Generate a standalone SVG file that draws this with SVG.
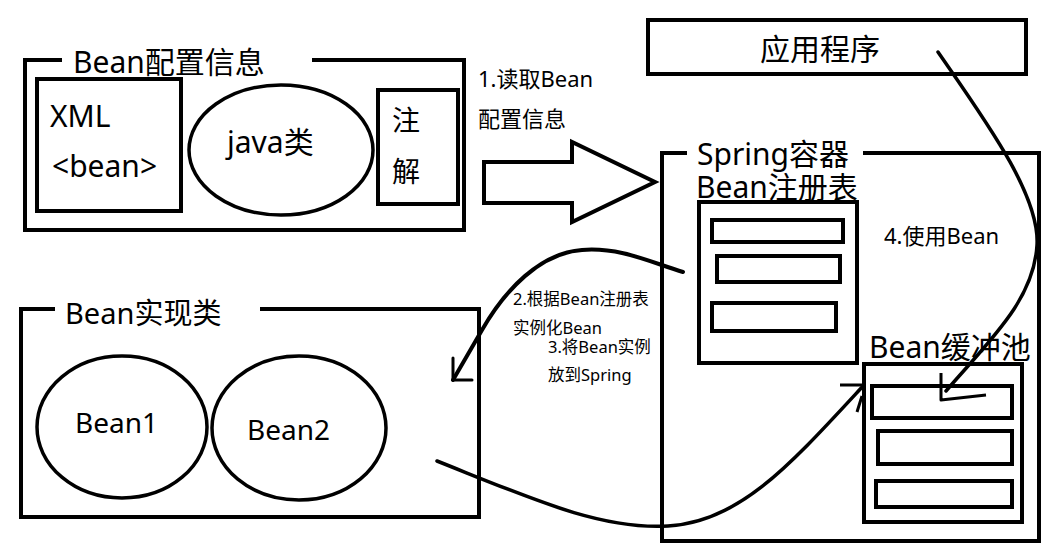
<svg xmlns="http://www.w3.org/2000/svg" width="1056" height="557" viewBox="0 0 1056 557">
<style>
.box{fill:none;stroke:#000;stroke-width:4}
.ell{fill:none;stroke:#000;stroke-width:3.5}
.ln{fill:none;stroke:#000;stroke-width:3.5;stroke-linecap:round;stroke-linejoin:round}
.big{font-family:"Noto Sans","Noto Sans CJK SC",sans-serif;font-size:30px;fill:#000}
.mid{font-family:"Noto Sans","Noto Sans CJK SC",sans-serif;font-size:28px;fill:#000}
.sm{font-family:"Noto Sans","Noto Sans CJK SC",sans-serif;font-size:22px;fill:#000}
.xs{font-family:"Noto Sans","Noto Sans CJK SC",sans-serif;font-size:16.5px;fill:#000}
</style>
<rect width="1056" height="557" fill="#fff"/>
<g id="config">
<path class="box" d="M62,60 H25 V230 H464 V60 H312"/>
<text class="big" x="73" y="73">Bean配置信息</text>
</g>
<g id="xml">
<rect class="box" x="37" y="79" width="144" height="132"/>
<text class="big" x="50" y="127">XML</text>
<text class="big" x="52" y="177">&lt;bean&gt;</text>
</g>
<g id="javaclass">
<ellipse class="ell" cx="281" cy="150" rx="92" ry="65"/>
<text class="big" x="227" y="153">java类</text>
</g>
<g id="annotation">
<rect class="box" x="378" y="90" width="80" height="114"/>
<text class="mid" x="392" y="131">注</text>
<text class="mid" x="392" y="182">解</text>
</g>
<g id="app">
<rect class="box" x="648" y="20" width="378" height="54"/>
<text class="big" x="820" y="60" text-anchor="middle">应用程序</text>
</g>
<g id="spring">
<path class="box" d="M687,153 H662 V541 H1039 V153 H863"/>
<text class="big" x="697" y="165">Spring容器</text>
<text class="big" x="696" y="198">Bean注册表</text>
</g>
<g id="registry">
<rect class="box" x="699" y="202" width="158" height="161"/>
<rect class="box" x="712" y="220" width="131" height="22"/>
<rect class="box" x="717" y="256" width="123" height="26"/>
<rect class="box" x="712" y="303" width="124" height="28"/>
</g>
<g id="pool">
<text class="big" x="869" y="358">Bean缓冲池</text>
<rect class="box" x="864" y="364" width="158" height="158"/>
<rect class="box" x="872" y="386" width="140" height="32"/>
<rect class="box" x="878" y="431" width="134" height="33"/>
<rect class="box" x="876" y="481" width="136" height="26"/>
</g>
<g id="impl">
<path class="box" d="M55,309 H21 V517 H479 V309 H260"/>
<text class="big" x="65" y="324" style="font-size:29px">Bean实现类</text>
</g>
<g id="bean1">
<ellipse class="ell" cx="122" cy="427" rx="85" ry="71"/>
<text class="mid" x="75" y="433">Bean1</text>
</g>
<g id="bean2">
<ellipse class="ell" cx="299" cy="428" rx="87" ry="72"/>
<text class="mid" x="247" y="440">Bean2</text>
</g>
<g id="connectors">
<polygon class="box" points="484,162 572,162 572,142 655,182 572,222 572,203 484,203"/>
<text class="sm" x="478" y="87">1.读取Bean</text>
<text class="sm" x="478" y="127">配置信息</text>
<path class="ln" style="stroke-width:4" d="M683,272 C650,262 620,247 582,250 C540,253 505,290 482,330 L453,380"/>
<path class="ln" style="stroke-width:3" d="M453,358 V380 H472"/>
<text class="xs" x="513" y="305">2.根据Bean注册表</text>
<text class="xs" x="513" y="334">实例化Bean</text>
<text class="xs" x="548" y="353">3.将Bean实例</text>
<text class="xs" x="548" y="381">放到Spring</text>
<path class="ln" d="M437,461 C530,498 600,530 668,526 C740,522 790,465 864,385"/>
<path class="ln" style="stroke-width:3;stroke-linecap:butt" d="M840,385 H865 M862,396 L857,412"/>
<text class="sm" x="884" y="244">4.使用Bean</text>
<path class="ln" d="M938,52 C985,120 1040,195 1037,245 C1034,300 990,340 946,391"/>
<path class="ln" style="stroke-width:3;stroke-linecap:butt" d="M941,373 V400 L986,395"/>
</g>
</svg>
